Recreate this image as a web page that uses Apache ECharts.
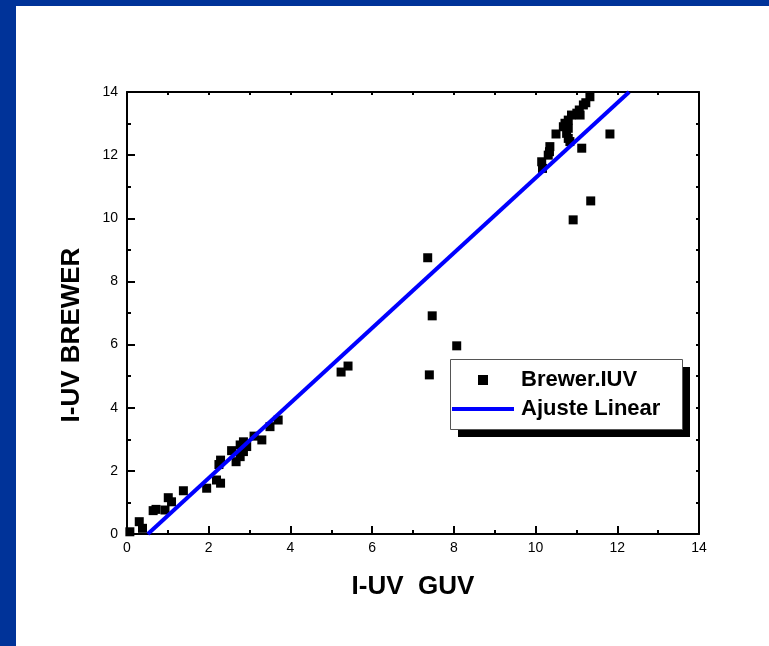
<!DOCTYPE html>
<html>
<head>
<meta charset="utf-8">
<script src="https://cdn.jsdelivr.net/npm/echarts@6/dist/echarts.min.js"></script>
<style>
html,body{margin:0;padding:0;width:769px;height:646px;background:#003399;overflow:hidden;}
#c{position:absolute;left:16px;top:6px;width:753px;height:640px;background:#ffffff;}
</style>
</head>
<body>
<div id="c"></div>
<script>
// Data
var guv = [0.07,0.30,0.38,0.64,0.71,0.93,1.01,1.09,1.38,1.95,2.19,2.29,2.29,2.25,2.56,2.67,2.77,2.77,2.85,2.93,2.85,3.11,3.30,3.50,3.70,
  5.24,5.41,7.36,7.47,8.07,7.40,
  10.15,10.17,10.31,10.34,10.35,10.50,10.68,10.72,10.76,10.80,10.80,10.80,10.84,10.88,11.01,11.07,11.09,11.13,11.17,11.23,11.33,11.82,11.35,10.92];
var brewer = [0.07,0.39,0.18,0.74,0.78,0.76,1.15,1.02,1.37,1.45,1.71,1.61,2.34,2.20,2.64,2.29,2.82,2.45,2.61,2.77,2.92,3.10,2.98,3.40,3.61,
  5.13,5.32,8.75,6.91,5.96,5.04,
  11.79,11.58,12.00,12.11,12.27,12.67,12.90,13.01,12.69,13.11,12.85,12.53,12.43,13.27,13.33,13.43,13.27,12.22,13.59,13.66,13.85,12.67,10.55,9.95];
var fitX = [0.51, 12.29];
var fitY = [0, 14];
var ticks = [0,2,4,6,8,10,12,14];
var seriesNames = ['Brewer.IUV','Ajuste Linear'];

var pts = guv.map(function(x,i){return [x, brewer[i]];});
var fit = fitX.map(function(x,i){return [x, fitY[i]];});

var chart = echarts.init(document.getElementById('c'), null, {renderer:'canvas'});
var fontFam = '"Liberation Sans", Arial, sans-serif';
var lineCol = '#000';
function mainAxis(pos, name, gap, rot, namePad){
  return {
    type:'value', position:pos, min:ticks[0], max:ticks[ticks.length-1], interval:ticks[1]-ticks[0],
    name:name, nameLocation:'middle', nameGap:gap, nameRotate:rot,
    nameTextStyle:{fontFamily:fontFam, fontWeight:'bold', fontSize:26, color:'#000', padding:namePad},
    axisLine:{show:true, onZero:false, lineStyle:{color:lineCol, width:2}},
    axisTick:{show:true, inside:true, length:8, lineStyle:{color:lineCol, width:2}},
    minorTick:{show:true, splitNumber:2, length:4, lineStyle:{color:lineCol, width:2}},
    axisLabel:{show:true, fontFamily:fontFam, fontSize:14, color:'#000', margin:pos==='left'?9:7},
    splitLine:{show:false}
  };
}
function mirrorAxis(pos){
  return {
    type:'value', position:pos, min:ticks[0], max:ticks[ticks.length-1], interval:ticks[1]-ticks[0],
    axisLine:{show:true, onZero:false, lineStyle:{color:lineCol, width:2}},
    axisTick:{show:true, inside:true, length:3, lineStyle:{color:lineCol, width:2}},
    minorTick:{show:true, splitNumber:2, length:3, lineStyle:{color:lineCol, width:2}},
    axisLabel:{show:false}, splitLine:{show:false}
  };
}
chart.setOption({
  animation:false,
  backgroundColor:'#ffffff',
  grid:{left:111, top:86, right:70, bottom:112, containLabel:false},
  xAxis:[mainAxis('bottom','I-UV  GUV',40,0,[0,0,0,0]), mirrorAxis('top')],
  yAxis:[mainAxis('left','I-UV BREWER',42,90,[0,44,0,0]), mirrorAxis('right')],
  graphic:[
    {type:'rect', left:442, top:361, shape:{width:232, height:70}, style:{fill:'#000'}, z:10},
    {type:'rect', left:434, top:353, shape:{width:232, height:70}, style:{fill:'#fff', stroke:'#555', lineWidth:1}, z:11}
  ],
  legend:{
    show:true, orient:'vertical', left:436, top:363, z:20,
    itemWidth:62, itemHeight:10, itemGap:7, padding:0,
    backgroundColor:'transparent', borderWidth:0,
    textStyle:{fontFamily:fontFam, fontWeight:'bold', fontSize:22, color:'#000', padding:[0,0,0,2]},
    data:[
      {name:seriesNames[0], icon:'path://M0,0h10v10h-10z', itemStyle:{color:'#000', opacity:1}},
      {name:seriesNames[1], icon:'path://M0,0h62v4h-62z', itemStyle:{color:'#0000ff'}}
    ]
  },
  series:[
    {name:seriesNames[0], type:'scatter', symbol:'rect', symbolSize:9,
     itemStyle:{color:'#000', opacity:1}, data:pts, z:2},
    {name:seriesNames[1], type:'line', symbol:'none', showSymbol:false,
     lineStyle:{color:'#0000ff', width:4}, itemStyle:{color:'#0000ff'}, data:fit, z:3}
  ]
});
</script>
</body>
</html>
